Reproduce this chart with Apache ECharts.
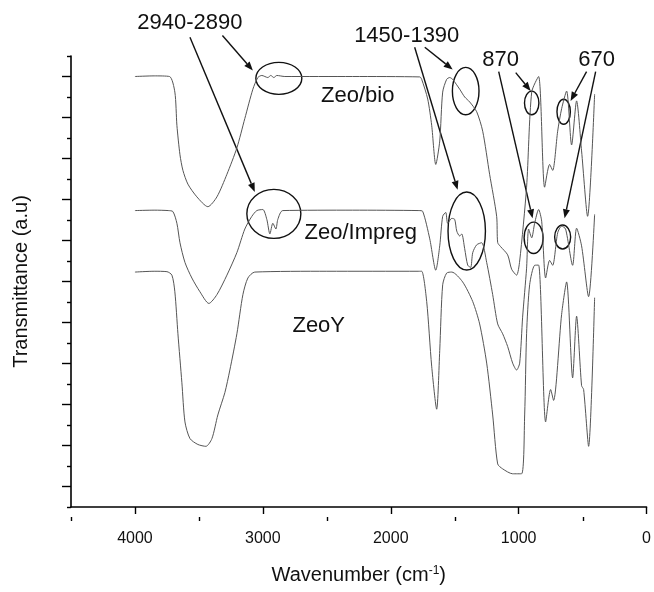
<!DOCTYPE html>
<html><head><meta charset="utf-8">
<script src="https://cdn.jsdelivr.net/npm/echarts@6/dist/echarts.min.js"></script>
<style>html,body{margin:0;padding:0;background:#fff}#c{width:654px;height:592px}</style>
</head><body><div id="c"></div>
<script>
// ---- data: [wavenumber (cm-1), transmittance (a.u., arbitrary offset units)] ----
const seriesNames = ['Zeo/bio', 'Zeo/Impreg', 'ZeoY'];
const zeoBio = [
  [4000,21.0],[3850,21.03],[3730,21.0],[3688,20.24],[3672,18.62],[3648,17.18],[3625,16.42],
  [3586,15.75],[3516,15.13],[3430,14.65],[3359,15.13],[3281,16.23],[3203,17.52],[3141,18.95],
  [3078,20.38],[3039,20.95],
  [3008,21.05],[2961,20.95],[2938,21.05],[2914,20.95],[2891,21.05],[2828,21.0],[2300,21.0],
  [1773,20.98],[1758,20.86],[1711,19.9],[1680,18.62],[1648,16.71],[1617,17.85],[1594,20.24],
  [1563,20.86],[1539,20.95],[1516,20.86],[1461,20.38],[1422,20.0],[1383,19.76],[1328,19.28],
  [1281,18.33],[1227,16.23],[1172,14.18],[1164,12.9],[1141,12.7],[1086,12.3],[1055,11.6],
  [1016,11.31],[992,12.0],[938,15.6],[898,20.24],[844,21.0],[797,15.6],[758,16.71],[734,16.42],
  [695,18.33],[664,19.43],[625,20.29],[586,17.66],[547,19.81],[508,17.37],[461,14.18],[406,20.14]
];
const zeoImpreg = [
  [4000,14.46],[3850,14.48],[3740,14.46],[3703,14.41],[3672,13.84],[3648,12.89],[3609,11.93],
  [3555,11.17],[3492,10.5],[3422,9.93],[3359,10.36],[3281,11.31],[3203,12.41],[3141,13.56],
  [3086,14.18],[3047,14.46],[3000,14.51],[2969,14.03],[2945,13.32],[2922,13.84],[2898,13.56],[2883,14.03],
  [2844,14.46],[2300,14.48],[1780,14.46],[1750,14.42],[1695,13.08],[1648,11.55],[1617,12.74],
  [1594,14.18],[1570,14.37],[1555,13.84],[1523,14.08],[1500,14.03],[1484,13.46],[1461,13.22],
  [1445,13.32],[1422,12.6],[1398,11.79],[1375,11.69],[1359,12.41],[1328,12.79],[1289,12.89],
  [1250,11.93],[1203,10.36],[1164,8.93],[1125,8.45],[1086,7.83],[1047,7.02],[1016,6.68],
  [992,7.02],[969,9.26],[938,11.65],[922,13.56],[898,13.13],[875,13.84],[844,14.51],[820,13.94],
  [789,11.17],[758,12.03],[734,11.79],[695,13.37],[664,13.7],[633,13.56],[578,11.79],[547,13.6],
  [508,12.74],[453,10.26],[406,14.27]
];
const zeoY = [
  [4000,11.46],[3850,11.5],[3750,11.48],[3711,11.31],[3688,10.5],[3664,8.45],[3633,6.06],
  [3609,4.15],[3570,3.34],[3508,3.05],[3445,2.96],[3398,3.34],[3352,4.49],[3297,5.58],
  [3258,6.68],[3203,8.45],[3156,10.36],[3117,11.17],[3063,11.46],[2500,11.5],[1780,11.5],[1758,11.5],[1719,10.02],
  [1680,6.87],[1641,4.77],[1617,7.64],[1594,10.84],[1563,11.41],[1523,11.46],[1438,10.98],
  [1359,10.02],[1305,8.93],[1250,7.02],[1203,4.49],[1164,2.1],[1125,1.86],[1047,1.62],[977,1.62],
  [953,4.49],[938,8.45],[914,10.84],[875,11.79],[844,11.8],[789,4.15],[750,5.73],[727,5.2],
  [664,9.4],[625,10.98],[578,6.3],[547,9.31],[508,5.92],[492,5.73],[453,2.96],[406,10.21]
];
// axis ticks
const xMajorTicks = [0,1000,2000,3000,4000];
const xMinorTicks = [500,1500,2500,3500,4500];
const yTickStep = 2;   // short ticks at even values, long (minor) ticks at odd values
// annotations (data coordinates)
const labelTexts = ['2940-2890','1450-1390','870','670','Zeo/bio','Zeo/Impreg','ZeoY'];
const labelPos = [[3570,23.63],[1875,23.0],[1141,21.81],[391,21.81],[2258,20.05],[2234,13.37],[2563,8.83]];
const ellipseCenters = [[2875,20.91],[2914,14.3],[1414,20.29],[1406,13.46],[898,19.71],[883,13.13],[648,19.28],[656,13.17]];
const ellipseRadii = [[23,16],[27,24.5],[13.3,23.7],[18.7,39],[7.2,11.8],[9.5,15.7],[6.7,12.5],[8,12]];
const arrowFrom = [[3316,23.0],[3570,22.91],[1734,22.43],[1813,22.43],[1023,21.19],[1156,21.24],[469,21.24],[398,21.24]];
const arrowTo = [[3078,21.29],[3063,15.37],[1516,21.34],[1477,15.47],[906,20.29],[891,14.08],[594,19.81],[641,14.08]];

const chart = echarts.init(document.getElementById('c'), null, {renderer:'canvas'});
const FONT = 'Liberation Sans, Arial, sans-serif';
const gridBox = {left:71, right:7, top:56, bottom:75, containLabel:false};
const axX = (extra) => Object.assign({
  type:'value', min:0, max:4500, inverse:true, position:'bottom',
  splitLine:{show:false}, axisLine:{show:true, onZero:false, lineStyle:{color:'#000', width:1.6}},
}, extra);
chart.setOption({
  animation:false,
  backgroundColor:'#fff',
  grid:[Object.assign({}, gridBox), Object.assign({}, gridBox)],
  xAxis:[
    axX({gridIndex:0, axisTick:{show:true, customValues:xMajorTicks, length:7, lineStyle:{color:'#000',width:1.4}},
         axisLabel:{show:true, customValues:xMajorTicks, formatter:(v)=>String(v), color:'#111', fontFamily:FONT, fontSize:16, margin:24},
         name:'Wavenumber (cm{sup|-1})', nameLocation:'middle', nameGap:58,
         nameTextStyle:{color:'#111', fontFamily:FONT, fontSize:20,
           rich:{sup:{fontSize:12, verticalAlign:'top', lineHeight:14, padding:[0,0,10,0], fontFamily:FONT, color:'#111'}}}}),
    axX({gridIndex:1, axisLine:{show:false}, axisTick:{show:true, customValues:xMinorTicks, length:4, lineStyle:{color:'#000',width:1.4}},
         axisLabel:{show:false}})
  ],
  yAxis:[
    {gridIndex:0, type:'value', min:0, max:22, interval:yTickStep, position:'left',
     splitLine:{show:false}, axisLine:{show:true, onZero:false, lineStyle:{color:'#000', width:1.6}},
     axisLabel:{show:false},
     axisTick:{show:true, length:4, lineStyle:{color:'#000',width:1.4}},
     minorTick:{show:true, splitNumber:2, length:9, lineStyle:{color:'#000',width:1.4}},
     name:'Transmittance (a.u)', nameLocation:'middle', nameGap:40,
     nameTextStyle:{color:'#111', fontFamily:FONT, fontSize:20}},
    {gridIndex:1, type:'value', min:0, max:22, show:false}
  ],
  series:[zeoBio, zeoImpreg, zeoY].map((d,i)=>({
    name:seriesNames[i], type:'line', data:d, xAxisIndex:0, yAxisIndex:0,
    showSymbol:false, smooth:0.25, lineStyle:{color:'#555', width:1}, silent:true
  }))
});

function px(p){ return chart.convertToPixel({xAxisIndex:0, yAxisIndex:0}, p); }
const g = [];
labelTexts.forEach((t,i)=>{
  const p = px(labelPos[i]);
  g.push({type:'text', x:p[0], y:p[1], style:{text:t, fill:'#111', font:'22px '+FONT, align:'center', verticalAlign:'middle'}});
});
ellipseCenters.forEach((c,i)=>{
  const p = px(c);
  g.push({type:'ellipse', shape:{cx:p[0], cy:p[1], rx:ellipseRadii[i][0], ry:ellipseRadii[i][1]},
    style:{fill:'none', stroke:'#111', lineWidth:1.4}});
});
arrowFrom.forEach((f,i)=>{
  const a = px(f), b = px(arrowTo[i]);
  const dx=b[0]-a[0], dy=b[1]-a[1], L=Math.hypot(dx,dy), ux=dx/L, uy=dy/L;
  const hl=9, hw=3.5;
  const bx=b[0]-ux*hl, by=b[1]-uy*hl;
  g.push({type:'line', shape:{x1:a[0], y1:a[1], x2:bx, y2:by}, style:{stroke:'#111', lineWidth:1.4}});
  g.push({type:'polygon', shape:{points:[[b[0],b[1]],[bx-uy*hw,by+ux*hw],[bx+uy*hw,by-ux*hw]]}, style:{fill:'#111'}});
});
chart.setOption({graphic:g});
</script></body></html>
